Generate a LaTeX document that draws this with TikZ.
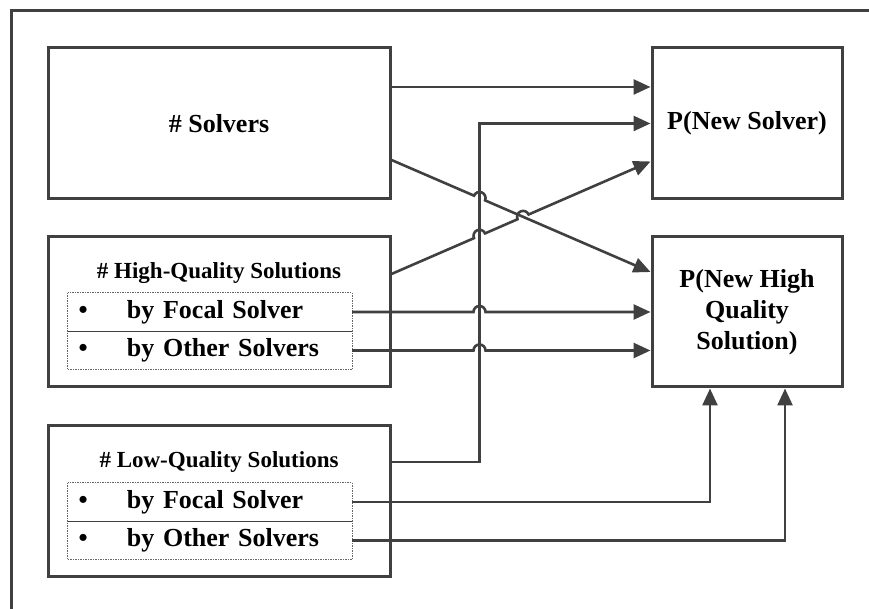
\documentclass[tikz,border=0pt]{standalone}
\usepackage{fontspec}
\setmainfont{Liberation Serif}[BoldFont={Liberation Serif Bold}]
\usetikzlibrary{arrows.meta,calc}

\definecolor{linegray}{HTML}{404040}
\tikzset{
  box/.style={draw=linegray, line width=3pt, fill=white, align=center,
    font=\bfseries\fontsize{26}{31}\selectfont},
  rowbox/.style={minimum width=284pt, minimum height=38.5pt, inner xsep=0pt,
    text width=284pt, align=left, font=\bfseries\fontsize{26}{31}\selectfont},
  boxtitle/.style={font=\bfseries\fontsize{23}{27}\selectfont},
  link/.style={draw=linegray, line width=2.6pt, -{Triangle[length=17pt,width=15pt]}},
  dotbox/.style={draw=linegray!80, line width=1pt, dash pattern=on 1.5pt off 1pt},
}
\newcommand{\rowitem}[1]{\hspace*{10.5pt}\makebox[48.5pt][l]{\textbullet}#1}

\begin{document}
\begin{tikzpicture}[x=1pt,y=1pt]
\useasboundingbox (0,0) rectangle (869,609);
% Draw the outer frame
\draw[linegray, line width=3pt] (11,0) -- (11,598) -- (869,598);

% Draw the left boxes
\node[box, minimum width=342pt, minimum height=151pt] (solv) at (219,485.5) {\# Solvers};
\node[box, minimum width=342pt, minimum height=150pt] (hq) at (219,297) {};
\node[box, minimum width=342pt, minimum height=151pt] (lq) at (219,107.5) {};

% High-quality solutions
\node[boxtitle, anchor=base] (hqtitle) at (219,330) {\# High-Quality Solutions};
\node[rowbox] (hqf) at (210,297) {\rowitem{by Focal Solver}};
\node[rowbox] (hqo) at (210,258.5) {\rowitem{by Other Solvers}};
\draw[dotbox] (hqf.north west) rectangle (hqo.south east);
\draw[linegray, line width=1pt] (hqf.south west) -- (hqf.south east);

% Low-quality solutions
\node[boxtitle, anchor=base] (lqtitle) at (219,141) {\# Low-Quality Solutions};
\node[rowbox] (lqf) at (210,107) {\rowitem{by Focal Solver}};
\node[rowbox] (lqo) at (210,68.5) {\rowitem{by Other Solvers}};
\draw[dotbox] (lqf.north west) rectangle (lqo.south east);
\draw[linegray, line width=1pt] (lqf.south west) -- (lqf.south east);

% Draw the right boxes
\node[box, minimum width=190pt, minimum height=151pt] (ns) at (747,485.5) {P(New Solver)};
\node[box, minimum width=190pt, minimum height=150pt] (nhq) at (747,297) {P(New High\\Quality\\Solution)};

% Draw the connectors
\coordinate (lqout) at ([yshift=39.5pt]lq.east);
\coordinate (turn) at ($(lqout)+(88,0)$);
\coordinate (vtop) at (turn |- ns.west);
\coordinate (a3) at ([yshift=-36.5pt]solv.east);
\coordinate (b3) at ([yshift=40pt]nhq.west);
\coordinate (a4) at ([yshift=38pt]hq.east);
\coordinate (b4) at ([yshift=-38pt]ns.west);
\coordinate (c3) at (intersection of a3--b3 and turn--vtop);
\coordinate (c4) at (intersection of a4--b4 and turn--vtop);
\coordinate (x34) at (intersection of a3--b3 and a4--b4);
\coordinate (in1) at ([xshift=-37pt]nhq.south);
\coordinate (in2) at ([xshift=38pt]nhq.south);

\draw[link] ([yshift=36.5pt]solv.east) -- ([yshift=36.5pt]ns.west);
\draw[link] (lqout) -| (vtop) -- (ns.west);
\draw[link] (a3) -- ($(c3)!6pt!(a3)$) arc[start angle=156.85, end angle=-23.15, radius=6] -- (b3);
\draw[link] (a4) -- ($(c4)!6pt!(a4)$) arc[start angle=203.24, end angle=23.24, radius=6]
  -- ($(x34)!6pt!(a4)$) arc[start angle=203.24, end angle=23.24, radius=6] -- (b4);
\draw[link] (hqf.east) -- ($(hqf.east -| turn)+(-6,0)$) arc[start angle=180, end angle=0, radius=6] -- (hqf.east -| nhq.west);
\draw[link] (hqo.east) -- ($(hqo.east -| turn)+(-6,0)$) arc[start angle=180, end angle=0, radius=6] -- (hqo.east -| nhq.west);
\draw[link] (lqf.east) -| (in1);
\draw[link] (lqo.east) -| (in2);
\end{tikzpicture}
\end{document}
